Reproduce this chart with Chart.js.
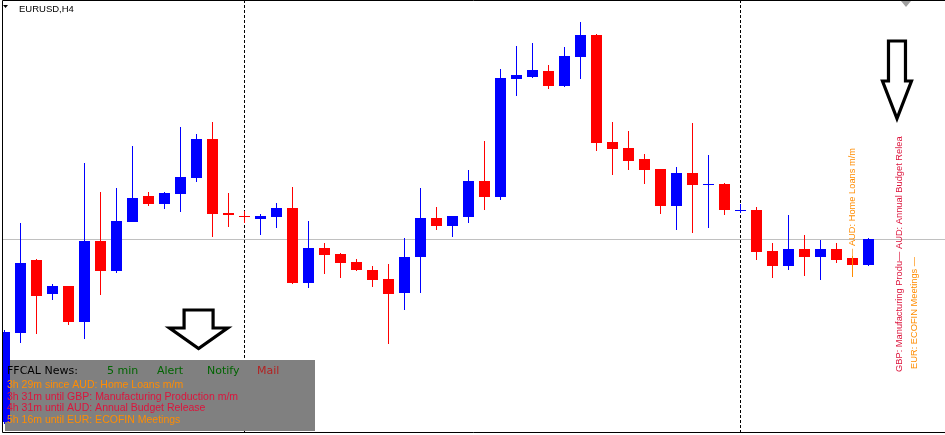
<!DOCTYPE html>
<html lang="en">
<head>
<meta charset="UTF-8">
<title>EURUSD,H4</title>
<script src="https://cdn.jsdelivr.net/npm/chart.js"></script>
<style>
  html, body { margin: 0; padding: 0; background: #ffffff; }
  canvas { display: block; }
</style>
</head>
<body>
<canvas id="chart" width="945" height="435"></canvas>
<script>
// EURUSD H4 candles, oldest first
const symbolTitle = 'EURUSD,H4';
const opens = [1.07585, 1.08030, 1.08395, 1.08225, 1.08265, 1.08085, 1.08490, 1.08340, 1.08585, 1.08715,
  1.08675, 1.08725, 1.08805, 1.09000, 1.08630, 1.08615, 1.08600, 1.08610, 1.08655, 1.08280,
  1.08455, 1.08425, 1.08385, 1.08345, 1.08300, 1.08230, 1.08410, 1.08605, 1.08565, 1.08610,
  1.08790, 1.08710, 1.09300, 1.09310, 1.09340, 1.09265, 1.09410, 1.09520, 1.08985, 1.08955,
  1.08900, 1.08850, 1.08665, 1.08830, 1.08770, 1.08775, 1.08640, 1.08645, 1.08440, 1.08365,
  1.08450, 1.08410, 1.08450, 1.08405, 1.08370];
const highs = [1.08045, 1.08580, 1.08400, 1.08275, 1.08265, 1.08880, 1.08735, 1.08755, 1.08965, 1.08735,
  1.08735, 1.09060, 1.09025, 1.09085, 1.08730, 1.08640, 1.08625, 1.08680, 1.08760, 1.08590,
  1.08480, 1.08430, 1.08400, 1.08365, 1.08375, 1.08505, 1.08755, 1.08660, 1.08615, 1.08845,
  1.08990, 1.09350, 1.09465, 1.09480, 1.09370, 1.09460, 1.09585, 1.09525, 1.09085, 1.09040,
  1.08925, 1.08850, 1.08860, 1.09080, 1.08920, 1.08780, 1.08675, 1.08660, 1.08480, 1.08620,
  1.08520, 1.08495, 1.08480, 1.08415, 1.08505];
const lows = [1.07575, 1.07980, 1.08025, 1.08195, 1.08070, 1.08000, 1.08220, 1.08330, 1.08585, 1.08665,
  1.08650, 1.08635, 1.08785, 1.08510, 1.08560, 1.08580, 1.08520, 1.08555, 1.08275, 1.08255,
  1.08325, 1.08305, 1.08340, 1.08260, 1.07975, 1.08145, 1.08230, 1.08545, 1.08510, 1.08580,
  1.08645, 1.08695, 1.09215, 1.09305, 1.09250, 1.09260, 1.09300, 1.08940, 1.08820, 1.08845,
  1.08775, 1.08625, 1.08545, 1.08530, 1.08555, 1.08620, 1.08630, 1.08395, 1.08305, 1.08345,
  1.08315, 1.08295, 1.08380, 1.08310, 1.08365];
const closes = [1.08035, 1.08380, 1.08215, 1.08265, 1.08085, 1.08490, 1.08340, 1.08590, 1.08705, 1.08675,
  1.08730, 1.08810, 1.09000, 1.08625, 1.08620, 1.08610, 1.08615, 1.08655, 1.08280, 1.08455,
  1.08420, 1.08380, 1.08345, 1.08295, 1.08225, 1.08410, 1.08605, 1.08565, 1.08615, 1.08790,
  1.08710, 1.09305, 1.09320, 1.09345, 1.09265, 1.09415, 1.09520, 1.08980, 1.08950, 1.08890,
  1.08845, 1.08665, 1.08830, 1.08770, 1.08775, 1.08645, 1.08645, 1.08435, 1.08365, 1.08450,
  1.08410, 1.08450, 1.08395, 1.08370, 1.08500];

const bidPrice = 1.08500;
const daySeparators = [15, 46];

// FFCAL news panel
const newsHeader = ['FFCAL News:', '5 min', 'Alert', 'Notify', 'Mail'];
const newsLines = [
  '3h 29m since AUD: Home Loans m/m',
  '3h 31m until GBP: Manufacturing Production m/m',
  '4h 31m until AUD: Annual Budget Release',
  '5h 16m until EUR: ECOFIN Meetings'
];
const newsColors = ['#ff8c00', '#dc143c', '#dc143c', '#ff8c00'];

// vertical event labels: text, bar index, price where the text starts
const eventTexts = ['\u2014 AUD: Home Loans m/m', 'GBP: Manufacturing Produ\u2014 AUD: Annual Budget Relea', 'EUR: ECOFIN Meetings \u2014'];
const eventBars = [53, 55.95, 56.9];
const eventPrices = [1.08405, 1.07835, 1.07850];
const eventColors = ['#ff8c00', '#dc143c', '#ff8c00'];
// event marker line under the first label (price range)
const markerRange = [1.08310, 1.08415];

// arrow objects: bar index and price of the tip
const arrowBars = [12.13, 55.78];
const arrowPrices = [1.07945, 1.09095];

const UP = '#0000ff';
const DOWN = '#ff0000';
const FONT = '"Liberation Sans", Arial, sans-serif';

const idx = opens.map((o, i) => i);
const colors = opens.map((o, i) => closes[i] >= o ? UP : DOWN);
const wickData = idx.map(i => ({ x: i, y: [lows[i], highs[i]] }));
const bodyData = idx.map(i => ({ x: i, y: [Math.min(opens[i], closes[i]), Math.max(opens[i], closes[i])] }));

const mtDecor = {
  id: 'mtDecor',
  beforeDatasetsDraw(chart) {
    const ctx = chart.ctx;
    const xs = chart.scales.x, ys = chart.scales.y;
    const area = chart.chartArea;
    ctx.save();
    // bid line
    const by = Math.round(ys.getPixelForValue(bidPrice)) + 0.5;
    ctx.strokeStyle = '#c0c0c0';
    ctx.lineWidth = 1;
    ctx.beginPath();
    ctx.moveTo(area.left, by);
    ctx.lineTo(area.right, by);
    ctx.stroke();
    // period separators
    ctx.strokeStyle = '#000000';
    ctx.setLineDash([3, 2]);
    daySeparators.forEach(d => {
      const x = Math.floor(xs.getPixelForValue(d)) + 0.5;
      ctx.beginPath();
      ctx.moveTo(x, 0);
      ctx.lineTo(x, 435);
      ctx.stroke();
    });
    ctx.setLineDash([]);
    // news panel background
    ctx.fillStyle = '#808080';
    ctx.fillRect(5, 360, 310, 71);
    ctx.restore();
  },
  afterDatasetsDraw(chart) {
    const ctx = chart.ctx;
    const xs = chart.scales.x, ys = chart.scales.y;
    ctx.save();
    // frame
    ctx.strokeStyle = '#000000';
    ctx.lineWidth = 1;
    ctx.beginPath();
    ctx.moveTo(2.5, 432.5);
    ctx.lineTo(2.5, 0.5);
    ctx.lineTo(945, 0.5);
    ctx.moveTo(2.5, 432.5);
    ctx.lineTo(945, 432.5);
    ctx.stroke();

    // title
    ctx.fillStyle = '#000000';
    ctx.beginPath();
    ctx.moveTo(3, 5); ctx.lineTo(8, 5); ctx.lineTo(5.5, 8); ctx.closePath();
    ctx.fill();
    ctx.font = '9.5px ' + FONT;
    ctx.textBaseline = 'alphabetic';
    ctx.fillText(symbolTitle, 19, 12);

    // scroll marker top right
    ctx.fillStyle = '#a0a0a0';
    ctx.beginPath();
    ctx.moveTo(901, 1); ctx.lineTo(911, 1); ctx.lineTo(906, 7); ctx.closePath();
    ctx.fill();

    // news panel text
    ctx.font = '11px "DejaVu Sans", Verdana, sans-serif';
    const headX = [7, 107, 157, 207, 257];
    const headC = ['#000000', '#006400', '#006400', '#006400', '#b22222'];
    newsHeader.forEach((t, i) => {
      ctx.fillStyle = headC[i];
      ctx.fillText(t, headX[i], 374);
    });
    ctx.font = '10.5px ' + FONT;
    newsLines.forEach((t, i) => {
      ctx.fillStyle = newsColors[i];
      ctx.fillText(t, 7, 388 + i * 11.7);
    });

    // vertical event labels
    ctx.font = '9.3px ' + FONT;
    ctx.textBaseline = 'middle';
    eventTexts.forEach((t, i) => {
      const x = xs.getPixelForValue(eventBars[i]);
      const y = ys.getPixelForValue(eventPrices[i]);
      ctx.save();
      ctx.translate(x, y);
      ctx.rotate(-Math.PI / 2);
      ctx.fillStyle = eventColors[i];
      ctx.fillText(t, 0, 0);
      ctx.restore();
    });
    const mx = Math.floor(xs.getPixelForValue(eventBars[0])) + 0.5;
    ctx.strokeStyle = eventColors[0];
    ctx.lineWidth = 1;
    ctx.beginPath();
    ctx.moveTo(mx, ys.getPixelForValue(markerRange[1]));
    ctx.lineTo(mx, ys.getPixelForValue(markerRange[0]));
    ctx.stroke();

    // outline arrows
    ctx.strokeStyle = '#000000';
    ctx.lineWidth = 3.2;
    ctx.lineJoin = 'miter';
    const shapes = [
      { sw: 14.5, hw: 29, top: 40, neck: 22 },
      { sw: 8.5, hw: 14.5, top: 79, neck: 39 }
    ];
    arrowBars.forEach((b, i) => {
      const x = xs.getPixelForValue(b);
      const y = ys.getPixelForValue(arrowPrices[i]);
      const s = shapes[i];
      ctx.beginPath();
      ctx.moveTo(x - s.sw, y - s.neck);
      ctx.lineTo(x - s.sw, y - s.top);
      ctx.lineTo(x + s.sw, y - s.top);
      ctx.lineTo(x + s.sw, y - s.neck);
      ctx.lineTo(x + s.hw, y - s.neck);
      ctx.lineTo(x, y - 1.5);
      ctx.lineTo(x - s.hw, y - s.neck);
      ctx.closePath();
      ctx.stroke();
    });
    ctx.restore();
  }
};

new Chart(document.getElementById('chart'), {
  type: 'bar',
  data: {
    datasets: [
      {
        label: 'wick',
        data: wickData,
        backgroundColor: colors,
        barThickness: 1,
        grouped: false,
        inflateAmount: 0,
        borderWidth: 0
      },
      {
        label: 'body',
        data: bodyData,
        backgroundColor: colors,
        barThickness: 11,
        grouped: false,
        inflateAmount: 0,
        borderWidth: 0
      }
    ]
  },
  options: {
    responsive: false,
    animation: false,
    events: [],
    layout: { padding: { left: 3, top: 1, right: 0, bottom: 3 } },
    plugins: {
      legend: { display: false },
      tooltip: { enabled: false },
      title: { display: false }
    },
    scales: {
      x: { type: 'linear', min: -0.09375, max: 58.78125, offset: false, display: false },
      y: { type: 'linear', min: 1.07535, max: 1.09690, display: false }
    }
  },
  plugins: [mtDecor]
});
</script>
</body>
</html>
